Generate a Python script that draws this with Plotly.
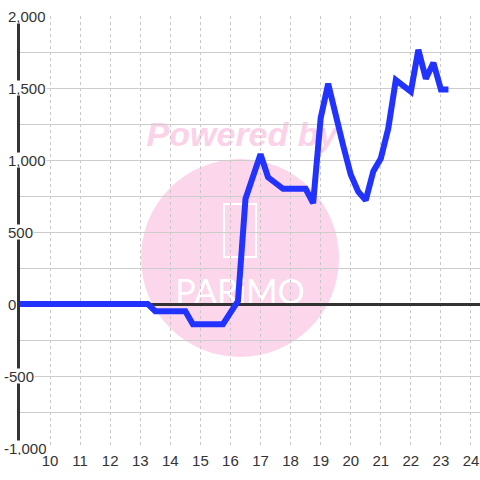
import plotly.graph_objects as go

# ---- data ----
x_vals = [9, 9.25, 9.5, 9.75, 10, 10.25, 10.5, 10.75, 11, 11.25, 11.5, 11.75,
          12, 12.25, 12.5, 12.75, 13, 13.25, 13.5, 13.75, 14, 14.25, 14.5,
          14.75, 15, 15.25, 15.5, 15.75, 16, 16.25, 16.5, 16.75, 17, 17.25,
          17.5, 17.75, 18, 18.25, 18.5, 18.75, 19, 19.25, 19.5, 19.75, 20,
          20.25, 20.5, 20.75, 21, 21.25, 21.5, 21.75, 22, 22.25, 22.5, 22.75,
          23, 23.25]
y_vals = [0, 0, 0, 0, 0, 0, 0, 0, 0, 0, 0, 0,
          0, 0, 0, 0, 0, 0, -50, -50, -50, -50, -50,
          -140, -140, -140, -140, -140, -60, 20, 730, 890, 1040, 880,
          840, 800, 800, 800, 800, 700, 1290, 1530, 1300, 1100, 900,
          780, 720, 920, 1010, 1220, 1555, 1515, 1475, 1765, 1565, 1675,
          1490, 1490]

x_ticks = list(range(10, 25))
y_grid_step = 250
y_label_vals = [2000, 1500, 1000, 500, 0, -500, -1000]
y_label_text = ["2,000", "1,500", "1,000", "500", "0", "-500", "-1,000"]

X_RANGE = [9, 24.3]
Y_RANGE = [-1000, 2000]

TEXT = "#333333"
FONT = "Liberation Sans, Arial, sans-serif"
ML, MT, MB = 20, 16, 32
PW = 480 - ML
PH = 480 - MT - MB

fig = go.Figure()
fig.add_trace(go.Scatter(
    x=x_vals, y=y_vals, mode="lines",
    line=dict(color="#2233ff", width=6),
    hoverinfo="skip", showlegend=False,
))

def px_to_paper_x(px):
    return (px - ML) / PW

def py_to_paper_y(py):
    return (480 - MB - py) / PH

def text_box(cx, cy, w, h, text, font):
    return dict(type="rect", xref="paper", yref="paper",
                x0=px_to_paper_x(cx - w / 2), x1=px_to_paper_x(cx + w / 2),
                y0=py_to_paper_y(cy + h / 2), y1=py_to_paper_y(cy - h / 2),
                line=dict(width=0), fillcolor="rgba(0,0,0,0)", layer="below",
                label=dict(text=text, textposition="middle center", font=font))

shapes = [
    # watermark circle
    dict(type="circle", xref="paper", yref="paper",
         x0=px_to_paper_x(141), x1=px_to_paper_x(339),
         y0=py_to_paper_y(357), y1=py_to_paper_y(159),
         fillcolor="#fcd6eb", line=dict(width=0), layer="below"),
    # watermark logo frame
    dict(type="rect", xref="paper", yref="paper",
         x0=px_to_paper_x(224), x1=px_to_paper_x(256),
         y0=py_to_paper_y(257), y1=py_to_paper_y(204),
         line=dict(color="white", width=2), layer="below"),
    text_box(242, 131, 200, 36, "<b><i>Powered by</i></b>",
             dict(family=FONT, size=34, color="#fcd2e8")),
    text_box(240, 290, 150, 40, "PARiMO",
             dict(family="Lato", size=34, color="white")),
]

annotations = []
for v, t in zip(y_label_vals, y_label_text):
    left_px = 3 if t.startswith("-") else 7
    annotations.append(dict(
        text=t, xref="paper", yref="y", x=px_to_paper_x(left_px), y=v,
        xanchor="left", yanchor="middle", showarrow=False,
        bgcolor="white", borderpad=0, height=14,
        font=dict(family=FONT, size=15, color=TEXT),
    ))

fig.update_layout(
    width=480, height=480,
    margin=dict(l=ML, r=0, t=MT, b=MB, pad=0),
    paper_bgcolor="white", plot_bgcolor="white",
    showlegend=False,
    shapes=shapes,
    annotations=annotations,
    xaxis=dict(
        range=X_RANGE, tickmode="array", tickvals=x_ticks,
        ticktext=[str(v) for v in x_ticks],
        showgrid=True, gridcolor="#c8c8c8", gridwidth=1, griddash="3px,3px",
        zeroline=False, showline=False, ticks="", ticklabelstandoff=2,
        tickfont=dict(family=FONT, size=15, color=TEXT),
        fixedrange=True,
    ),
    yaxis=dict(
        range=Y_RANGE, dtick=y_grid_step, tick0=0,
        showgrid=True, gridcolor="#cccccc", gridwidth=1,
        zeroline=True, zerolinecolor=TEXT, zerolinewidth=2.5,
        showline=True, linecolor=TEXT, linewidth=3, layer="below traces",
        showticklabels=False, ticks="",
        fixedrange=True,
    ),
)

fig.write_html(
    "out.html",
    config={"displayModeBar": False},
    post_script="document.body.style.margin='0';document.body.style.overflow='hidden';",
)
